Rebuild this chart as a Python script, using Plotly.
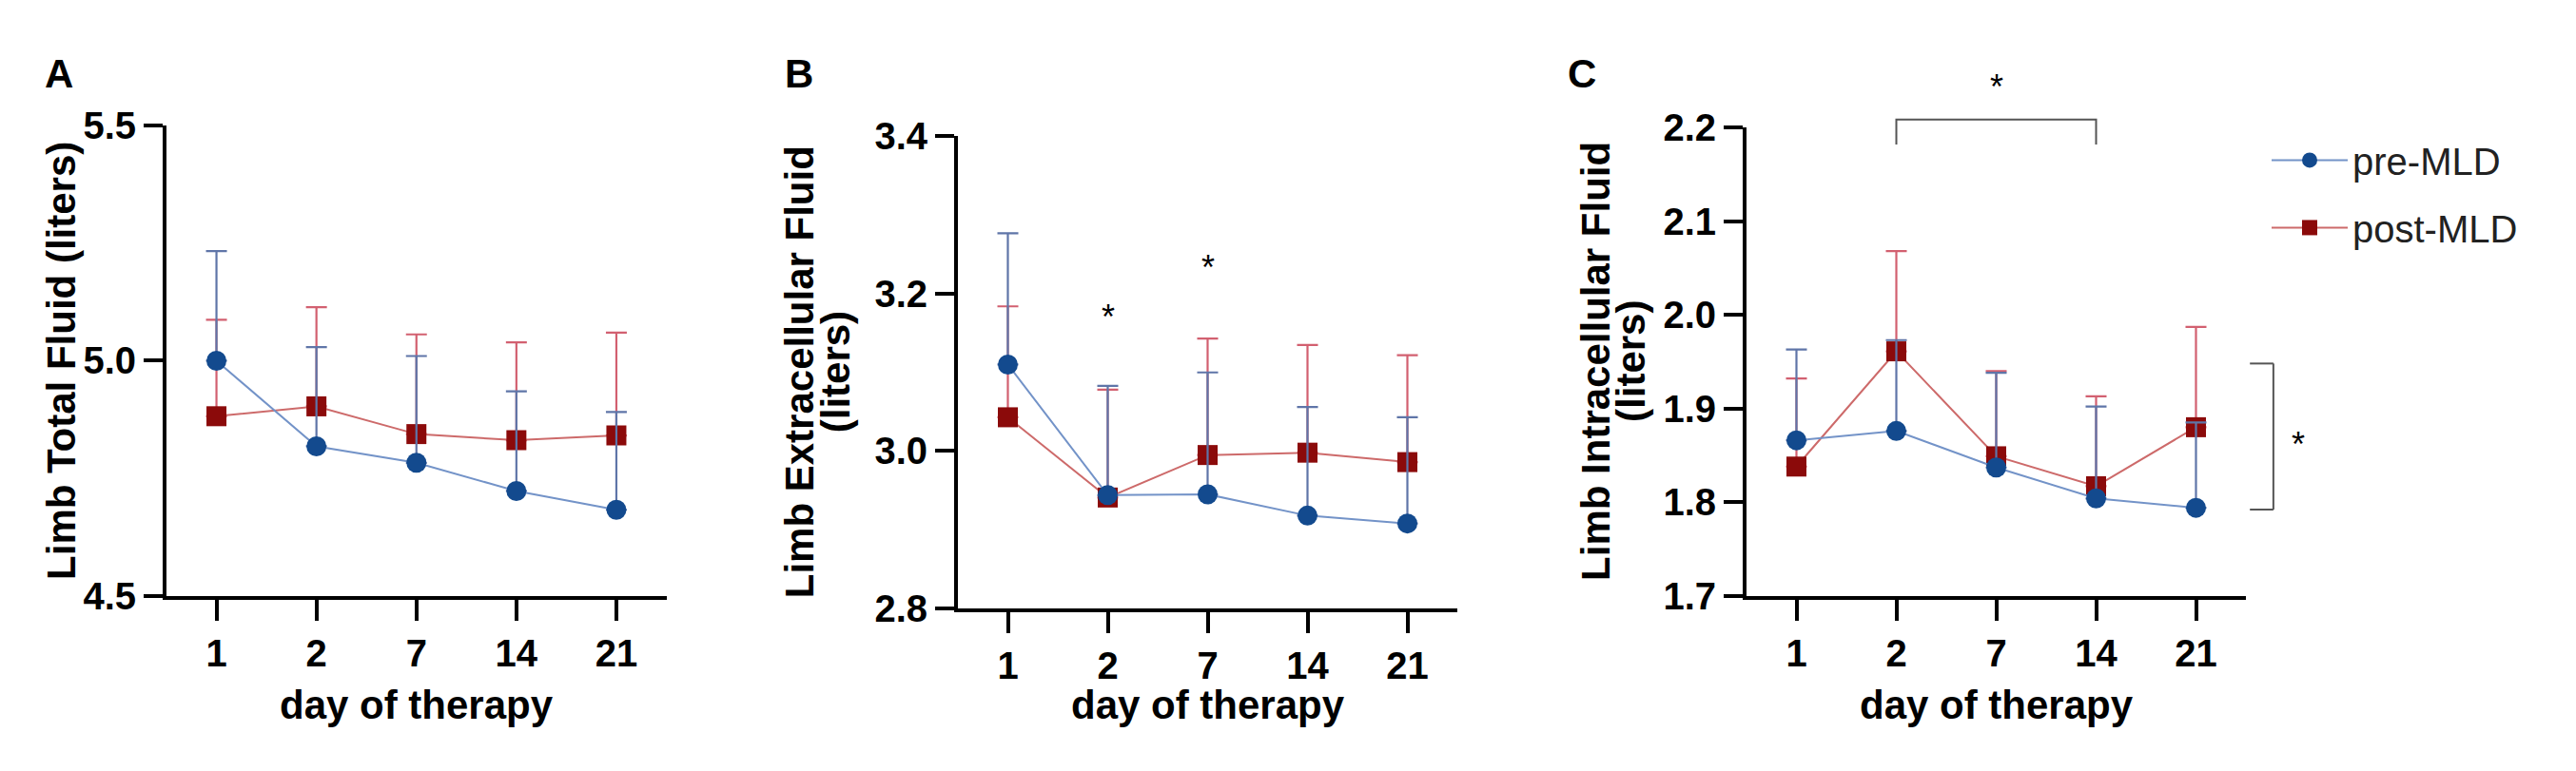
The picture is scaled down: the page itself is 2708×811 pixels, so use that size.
import plotly.graph_objects as go

W, H = 2708, 811

# day of therapy (categories)
days = ["1", "2", "7", "14", "21"]

# A: limb total fluid, mean and upper SD
a_pre = [5.000, 4.818, 4.783, 4.723, 4.683]
a_pre_sd = [0.233, 0.211, 0.227, 0.212, 0.208]
a_post = [4.882, 4.903, 4.844, 4.831, 4.841]
a_post_sd = [0.205, 0.211, 0.212, 0.208, 0.219]

# B: limb extracellular fluid
b_pre = [3.110, 2.944, 2.945, 2.918, 2.908]
b_pre_sd = [0.167, 0.139, 0.155, 0.138, 0.135]
b_post = [3.043, 2.941, 2.995, 2.998, 2.986]
b_post_sd = [0.141, 0.137, 0.148, 0.137, 0.136]

# C: limb intracellular fluid
c_pre = [1.866, 1.876, 1.837, 1.804, 1.794]
c_pre_sd = [0.097, 0.097, 0.101, 0.098, 0.091]
c_post = [1.838, 1.961, 1.849, 1.817, 1.880]
c_post_sd = [0.094, 0.107, 0.091, 0.096, 0.107]

# significance marks in B (category index, y)
b_star_idx = [1, 2]
b_star_y = [3.180, 3.243]
# C: bracket day 2 vs day 14 (category index), and pre vs post bracket (y range)
c_pair = [1, 3]
c_side = [1.792, 1.948]

PRE_MARK, PRE_LINE, PRE_ERR = "#134a8e", "#7393c8", "#5f75a8"
POST_MARK, POST_LINE, POST_ERR = "#8b0a0a", "#cd6a6a", "#d26070"
FONT = "Liberation Sans, Arial, sans-serif"

panels = [
    ("x", "y", a_pre, a_pre_sd, a_post, a_post_sd),
    ("x2", "y2", b_pre, b_pre_sd, b_post, b_post_sd),
    ("x3", "y3", c_pre, c_pre_sd, c_post, c_post_sd),
]

fig = go.Figure()
for i, (xa, ya, pre, pre_sd, post, post_sd) in enumerate(panels):
    last = i == 2
    # post drawn first so the pre-MLD circles sit on top
    fig.add_trace(go.Scatter(
        x=days, y=post, xaxis=xa, yaxis=ya, name="post-MLD", mode="lines+markers",
        legendgroup="post", legendrank=2, line=dict(color=POST_LINE, width=2),
        marker=dict(symbol="square", size=21, color=POST_MARK),
        error_y=dict(type="data", symmetric=False, array=post_sd, arrayminus=[0] * 5,
                     color=POST_ERR, thickness=2.2, width=11),
        showlegend=last))
    fig.add_trace(go.Scatter(
        x=days, y=pre, xaxis=xa, yaxis=ya, name="pre-MLD", mode="lines+markers",
        legendgroup="pre", legendrank=1, line=dict(color=PRE_LINE, width=2),
        marker=dict(symbol="circle", size=21, color=PRE_MARK),
        error_y=dict(type="data", symmetric=False, array=pre_sd, arrayminus=[0] * 5,
                     color=PRE_ERR, thickness=2.2, width=11),
        showlegend=last))

def xax(x0, x1, anchor):
    return dict(domain=[x0 / W, x1 / W], anchor=anchor, type="category", range=[-0.5, 4.5],
                showline=True, linecolor="black", linewidth=4, ticks="outside", ticklen=22,
                tickwidth=4, tickcolor="black", showgrid=False, zeroline=False,
                tickfont=dict(family=FONT, size=40, color="black", weight="bold"))

def yax(top, bottom, anchor, lo, hi, step):
    return dict(domain=[1 - bottom / H, 1 - top / H], anchor=anchor, range=[lo, hi], dtick=step,
                tick0=lo, tickformat=".1f", showline=True, linecolor="black", linewidth=4,
                ticks="outside", ticklen=20, tickwidth=4, tickcolor="black", showgrid=False,
                zeroline=False, tickfont=dict(family=FONT, size=40, color="black", weight="bold"))

ann = []
bold = dict(family=FONT, size=42, color="black", weight="bold")
mid = dict(xanchor="center", yanchor="middle", showarrow=False)
# panel letters
for txt, px in [("A", 54), ("B", 832), ("C", 1655)]:
    ann.append(dict(text=txt, x=px / W, y=1 - 50 / H, xref="paper", yref="paper",
                    font=bold, **mid))
# y titles
ytitles = [(["Limb Total Fluid (liters)"], [57], 370),
           (["Limb Extracellular Fluid", "(liters)"], [832, 870], 382),
           (["Limb Intracellular Fluid", "(liters)"], [1670, 1707], 370)]
for lines, xs, yc in ytitles:
    for t, px in zip(lines, xs):
        ann.append(dict(text=t, x=px / W, y=1 - yc / H, xref="paper", yref="paper",
                        textangle=-90, font=bold, **mid))
# x titles
for xa in ["x", "x2", "x3"]:
    ann.append(dict(text="day of therapy", x=0.5, y=1 - 752 / H, xref=xa + " domain",
                    yref="paper", font=bold, **mid))
# stars
star = dict(family=FONT, size=36, color="black")
for d, yv in zip(b_star_idx, b_star_y):
    ann.append(dict(text="*", x=d, y=yv, xref="x2", yref="y2", font=star, yshift=-8, **mid))
ann.append(dict(text="*", x=sum(c_pair) / 2, y=1.102, xref="x3", yref="y3 domain",
                font=star, yshift=-8, **mid))
ann.append(dict(text="*", x=1.105, y=sum(c_side) / 2, xref="x3 domain", yref="y3",
                font=star, yshift=-8, **mid))

br = dict(color="#555555", width=2)
shapes = [
    dict(type="path", xref="x3", yref="y3 domain", line=br,
         path="M %d,0.9635 L %d,1.017 L %d,1.017 L %d,0.9635" % (c_pair[0], c_pair[0], c_pair[1], c_pair[1])),
    dict(type="line", xref="x3 domain", yref="y3", x0=1.008, x1=1.055,
         y0=c_side[1], y1=c_side[1], line=br),
    dict(type="line", xref="x3 domain", yref="y3", x0=1.055, x1=1.055,
         y0=c_side[0], y1=c_side[1], line=br),
    dict(type="line", xref="x3 domain", yref="y3", x0=1.008, x1=1.055,
         y0=c_side[0], y1=c_side[0], line=br),
]

fig.update_layout(
    width=W, height=H, margin=dict(l=0, r=0, t=0, b=0),
    paper_bgcolor="white", plot_bgcolor="white",
    xaxis=xax(167, 692.5, "y"), yaxis=yax(108, 631, "x", 4.5, 5.5, 0.5),
    xaxis2=xax(999, 1524, "y2"), yaxis2=yax(120, 645, "x2", 2.8, 3.4, 0.2),
    xaxis3=xax(1828, 2353, "y3"), yaxis3=yax(110, 631, "x3", 1.7, 2.2, 0.1),
    legend=dict(x=2375 / W, y=1 - 112 / H, xanchor="left", yanchor="top",
                traceorder="grouped", itemwidth=80,
                font=dict(family=FONT, size=40, color="#222222"), tracegroupgap=16,
                bgcolor="rgba(0,0,0,0)"),
    annotations=ann, shapes=shapes,
)

fig.write_html("out.html")
